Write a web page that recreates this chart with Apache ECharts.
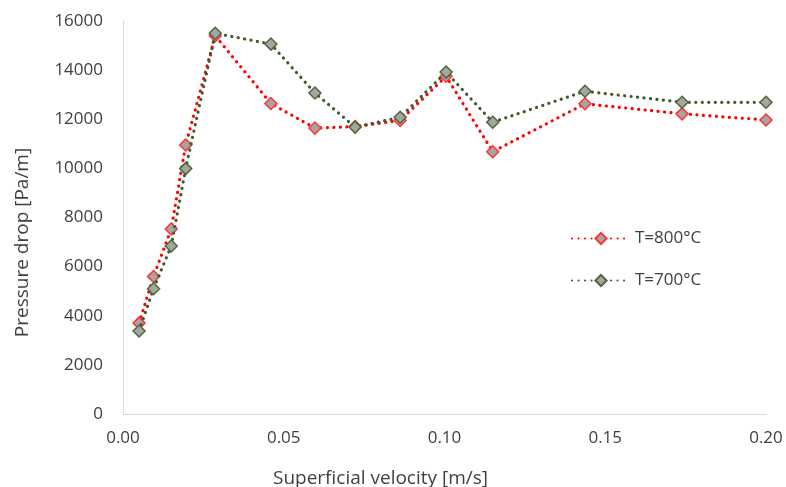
<!DOCTYPE html>
<html>
<head>
<meta charset="utf-8">
<style>
  html, body { margin: 0; padding: 0; background: #fff; }
  #main { width: 786px; height: 487px; }
</style>
<script src="https://cdn.jsdelivr.net/npm/echarts@6/dist/echarts.min.js"></script>
</head>
<body>
<div id="main"></div>
<script>
// superficial velocity [m/s]
const velocity = [0.005, 0.0095, 0.015, 0.0195, 0.0287, 0.046, 0.0597, 0.0722, 0.0862, 0.1005, 0.115, 0.1437, 0.1739, 0.2];
// pressure drop [Pa/m]
const drop800 = [3700, 5600, 7530, 10950, 15400, 12640, 11640, 11700, 11950, 13750, 10680, 12630, 12220, 11970];
const drop700 = [3380, 5100, 6840, 9990, 15500, 15060, 13070, 11680, 12080, 13920, 11880, 13140, 12690, 12690];

const font = "'Open Sans', 'Noto Sans', sans-serif";
const txt = "#404040";

const pairs = ys => velocity.map((v, i) => [v, ys[i]]);

const chart = echarts.init(document.getElementById("main"));
chart.setOption({
  animation: false,
  backgroundColor: "#fff",
  textStyle: { fontFamily: font },
  grid: { left: 123, right: 20, top: 21, bottom: 73, outerBoundsMode: "none" },
  legend: {
    orient: "vertical",
    left: 566,
    top: 225,
    itemWidth: 58,
    itemHeight: 14,
    itemGap: 25,
    textStyle: { color: txt, fontSize: 17, fontFamily: font },
    data: ["T=800°C", "T=700°C"]
  },
  xAxis: {
    type: "value",
    min: 0,
    max: 0.2,
    interval: 0.05,
    name: "Superficial velocity [m/s]",
    nameLocation: "middle",
    nameGap: 55,
    nameTextStyle: { color: txt, fontSize: 19, fontFamily: font, padding: [0, 128, 0, 0] },
    axisLine: { lineStyle: { color: "#d9d9d9", width: 1 } },
    axisTick: { show: false },
    splitLine: { show: false },
    axisLabel: {
      color: txt, fontSize: 17, margin: 16,
      formatter: v => v.toFixed(2)
    }
  },
  yAxis: {
    type: "value",
    min: 0,
    max: 16000,
    interval: 2000,
    name: "Pressure drop [Pa/m]",
    nameLocation: "middle",
    nameGap: 91,
    nameTextStyle: { color: txt, fontSize: 19, fontFamily: font, padding: [0, 50, 0, 0] },
    axisLine: { show: true, lineStyle: { color: "#d9d9d9", width: 1 } },
    axisTick: { show: false },
    splitLine: { show: false },
    axisLabel: { color: txt, fontSize: 17, margin: 20, formatter: v => String(v) }
  },
  series: [
    {
      name: "T=800°C",
      type: "line",
      data: pairs(drop800),
      symbol: "diamond",
      symbolSize: 12,
      lineStyle: { color: "#ff0000", width: 3.2, type: [0.1, 6.4], cap: "round" },
      itemStyle: { color: "#a5a5a5", borderColor: "#ff3333", borderWidth: 1.5 },
      z: 2
    },
    {
      name: "T=700°C",
      type: "line",
      data: pairs(drop700),
      symbol: "diamond",
      symbolSize: 12,
      lineStyle: { color: "#3d5c2a", width: 3.2, type: [0.1, 6.4], cap: "round" },
      itemStyle: { color: "#a5a5a5", borderColor: "#4a6b35", borderWidth: 1.5 },
      z: 3
    }
  ]
});
</script>
</body>
</html>
